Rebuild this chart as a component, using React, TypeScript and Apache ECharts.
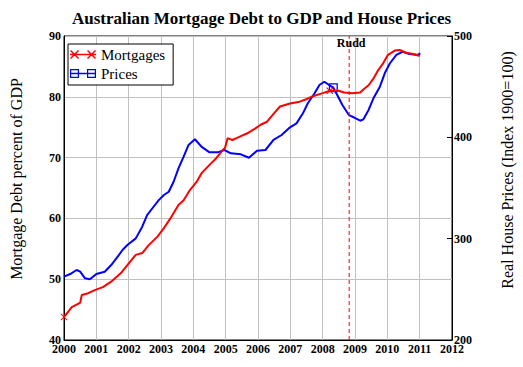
import React, { useEffect, useRef } from "react";
import * as echarts from "echarts";

const chartTitle = "Australian Mortgage Debt to GDP and House Prices";
const leftAxisName = "Mortgage Debt percent of GDP";
const rightAxisName = "Real House Prices (Index 1900=100)";
const seriesNames = ["Mortgages", "Prices"];

const mortgageYears = [
  2000.0, 2000.12, 2000.24, 2000.45, 2000.5, 2000.55, 2000.75, 2000.95, 2001.2, 2001.46,
  2001.76, 2001.96, 2002.22, 2002.42, 2002.62, 2002.89, 2003.09, 2003.29, 2003.54, 2003.7,
  2003.9, 2004.1, 2004.25, 2004.5, 2004.71, 2004.91, 2004.98, 2005.06, 2005.21, 2005.42,
  2005.67, 2005.92, 2006.08, 2006.28, 2006.48, 2006.68, 2006.99, 2007.29, 2007.49, 2007.7,
  2008.0, 2008.22, 2008.5, 2008.66, 2008.91, 2009.16, 2009.26, 2009.42, 2009.57, 2009.72,
  2009.87, 2010.02, 2010.23, 2010.38, 2010.58, 2010.84, 2011.0,
];
const mortgageValues = [
  43.8, 44.6, 45.4, 46.0, 46.1, 47.4, 47.7, 48.2, 48.7, 49.6,
  51.0, 52.3, 54.0, 54.3, 55.6, 57.0, 58.4, 60.0, 62.2, 63.0,
  64.7, 66.0, 67.4, 68.8, 69.9, 71.25, 71.6, 73.2, 72.9, 73.4,
  74.0, 74.8, 75.4, 75.9, 77.2, 78.4, 78.9, 79.2, 79.6, 80.1,
  80.6, 81.0, 81.0, 80.7, 80.6, 80.7, 81.2, 81.9, 83.0, 84.4,
  85.5, 86.9, 87.6, 87.7, 87.25, 87.0, 86.7,
];

const priceYears = [
  2000.0, 2000.19, 2000.39, 2000.5, 2000.65, 2000.8, 2001.0, 2001.26, 2001.46, 2001.66,
  2001.81, 2001.96, 2002.22, 2002.42, 2002.57, 2002.77, 2002.93, 2003.09, 2003.24, 2003.39,
  2003.54, 2003.7, 2003.85, 2004.05, 2004.25, 2004.5, 2004.76, 2004.96, 2005.16, 2005.47,
  2005.72, 2005.97, 2006.23, 2006.48, 2006.73, 2006.99, 2007.19, 2007.39, 2007.54, 2007.75,
  2007.9, 2008.05, 2008.2, 2008.33, 2008.45, 2008.61, 2008.81, 2008.96, 2009.16, 2009.26,
  2009.42, 2009.57, 2009.77, 2009.92, 2010.08, 2010.28, 2010.48, 2010.68, 2010.94, 2011.02,
];
const priceValues = [
  262.5, 265.1, 269.1, 267.4, 260.9, 259.9, 265.1, 267.4, 274.0, 282.2,
  288.8, 293.7, 300.3, 311.8, 323.3, 331.5, 338.0, 343.1, 346.3, 356.2,
  369.4, 380.9, 392.4, 398.1, 390.8, 385.2, 385.2, 387.5, 384.2, 383.2,
  379.9, 386.8, 387.5, 397.4, 402.3, 409.9, 413.8, 423.7, 433.6, 443.5,
  451.6, 454.9, 451.6, 449.0, 441.8, 431.9, 422.0, 419.8, 416.4, 417.8,
  427.0, 438.5, 450.0, 463.2, 473.1, 481.3, 484.5, 482.2, 481.3, 482.9,
];

const mortgageMarkerYears = [2000.0, 2008.22];
const priceMarkerYears = [2008.33];
const ruddYear = 2008.82;
const ruddLabel = "Rudd";
const ruddLabelLevel = 88.85;

const xMin = 2000;
const xMax = 2012;
const leftMin = 40;
const leftMax = 90;
const rightMin = 200;
const rightMax = 500;

const RED = "#ff0000";
const BLUE = "#0000ff";
const SERIF = "Liberation Serif";

const xMarkPath =
  "path://M0,1 L1,0 L10,9 L9,10 Z M9,0 L10,1 L1,10 L0,9 Z";
const squareMarkPath =
  "path://M0,0 L10,0 L10,10 L0,10 Z M1.4,1.4 L1.4,8.6 L8.6,8.6 L8.6,1.4 Z";
const legendXIcon =
  "path://M0,1 L1,0 L9,8 L8,9 Z M8,0 L9,1 L1,9 L0,8 Z M17,1 L18,0 L26,8 L25,9 Z M25,0 L26,1 L18,9 L17,8 Z M0,3.7 L26,3.7 L26,5.3 L0,5.3 Z";
const legendSquareIcon =
  "path://M0,0 L9,0 L9,9 L0,9 Z M1.2,1.2 L1.2,7.8 L7.8,7.8 L7.8,1.2 Z M17,0 L26,0 L26,9 L17,9 Z M18.2,1.2 L18.2,7.8 L24.8,7.8 L24.8,1.2 Z M0,3.7 L26,3.7 L26,5.3 L0,5.3 Z";

function buildData(xs: number[], ys: number[], markers: number[], size: number) {
  return xs.map((x, i) => {
    const isMarker = markers.some((m) => Math.abs(m - x) < 1e-6);
    return isMarker
      ? { value: [x, ys[i]], symbolSize: size }
      : { value: [x, ys[i]], symbol: "none" };
  });
}

export default function App() {
  const ref = useRef<HTMLDivElement>(null);

  useEffect(() => {
    if (!ref.current) return;
    const chart = echarts.init(ref.current, undefined, { renderer: "svg" });
    const tickLabel = {
      fontFamily: SERIF,
      fontWeight: "bold" as const,
      fontSize: 12,
      color: "#000",
    };
    chart.setOption({
      animation: false,
      backgroundColor: "#fff",
      textStyle: { fontFamily: SERIF },
      title: {
        text: chartTitle,
        left: "center",
        top: 5,
        textStyle: {
          fontFamily: SERIF,
          fontWeight: "bold",
          fontSize: 17,
          color: "#000",
        },
      },
      legend: {
        orient: "vertical",
        left: 68,
        top: 44,
        padding: [2, 8, 3, 2],
        itemGap: 2,
        itemWidth: 26,
        itemHeight: 9,
        borderColor: "#000",
        borderWidth: 1,
        backgroundColor: "#fff",
        textStyle: { fontFamily: SERIF, fontSize: 15, color: "#000", lineHeight: 17 },
        data: [
          { name: seriesNames[0], icon: legendXIcon },
          { name: seriesNames[1], icon: legendSquareIcon },
        ],
      },
      grid: {
        left: 60,
        right: 68,
        top: 36,
        bottom: 27,
        containLabel: false,
        show: true,
        borderColor: "#000",
        borderWidth: 1,
      },
      xAxis: {
        type: "value",
        min: xMin,
        max: xMax,
        interval: 1,
        axisLine: { show: true, onZero: false, lineStyle: { color: "#000", width: 1 } },
        axisTick: { show: false },
        axisLabel: {
          ...tickLabel,
          margin: 3,
          showMinLabel: true,
          showMaxLabel: true,
          formatter: (v: number) => String(Math.round(v)),
        },
        splitLine: { show: true, lineStyle: { color: "#c0c0c0", width: 1 } },
      },
      yAxis: [
        {
          type: "value",
          min: leftMin,
          max: leftMax,
          interval: 10,
          position: "left",
          name: leftAxisName,
          nameLocation: "middle",
          nameRotate: 90,
          nameGap: 40,
          nameTextStyle: {
            fontFamily: SERIF,
            fontSize: 16,
            color: "#000",
            padding: [0, 0, 0, 18],
          },
          axisLine: { show: true, lineStyle: { color: "#000", width: 1 } },
          axisTick: { show: false },
          axisLabel: { ...tickLabel, margin: 3 },
          splitLine: { show: true, lineStyle: { color: "#c0c0c0", width: 1 } },
        },
        {
          type: "value",
          min: rightMin,
          max: rightMax,
          interval: 100,
          position: "right",
          name: rightAxisName,
          nameLocation: "middle",
          nameRotate: 90,
          nameGap: 47,
          nameTextStyle: {
            fontFamily: SERIF,
            fontSize: 16,
            color: "#000",
            padding: [0, 0, 0, 36],
          },
          axisLine: { show: true, lineStyle: { color: "#000", width: 1 } },
          axisTick: { show: true, inside: true, length: 5, lineStyle: { color: "#000" } },
          axisLabel: { ...tickLabel, margin: 2 },
          splitLine: { show: false },
        },
      ],
      series: [
        {
          name: "Rudd line",
          type: "line",
          yAxisIndex: 0,
          silent: true,
          symbol: "none",
          color: RED,
          lineStyle: { color: RED, type: [4, 3], width: 1 },
          data: [
            [ruddYear, leftMin],
            [ruddYear, leftMax],
          ],
          z: 4,
          markPoint: {
            silent: true,
            symbol: "rect",
            symbolSize: [1, 1],
            itemStyle: { color: "transparent" },
            label: {
              show: true,
              position: "inside",
              formatter: ruddLabel,
              offset: [2, 0],
              fontFamily: SERIF,
              fontWeight: "bold",
              fontSize: 12,
              color: "#000",
            },
            data: [{ coord: [ruddYear, ruddLabelLevel] }],
          },
        },
        {
          name: seriesNames[0],
          type: "line",
          yAxisIndex: 0,
          symbol: xMarkPath,
          symbolSize: 7,
          showAllSymbol: true,
          color: RED,
          itemStyle: { color: RED },
          lineStyle: { color: RED, width: 2 },
          data: buildData(mortgageYears, mortgageValues, mortgageMarkerYears, 7),
          z: 3,
        },
        {
          name: seriesNames[1],
          type: "line",
          yAxisIndex: 1,
          symbol: squareMarkPath,
          symbolSize: 9,
          showAllSymbol: true,
          color: BLUE,
          itemStyle: { color: BLUE },
          lineStyle: { color: BLUE, width: 2 },
          data: buildData(priceYears, priceValues, priceMarkerYears, 9),
          z: 2,
        },
      ],
    });
    return () => chart.dispose();
  }, []);

  return (
    <div
      ref={ref}
      style={{ position: "fixed", left: 0, top: 0, width: 523, height: 367 }}
    />
  );
}
